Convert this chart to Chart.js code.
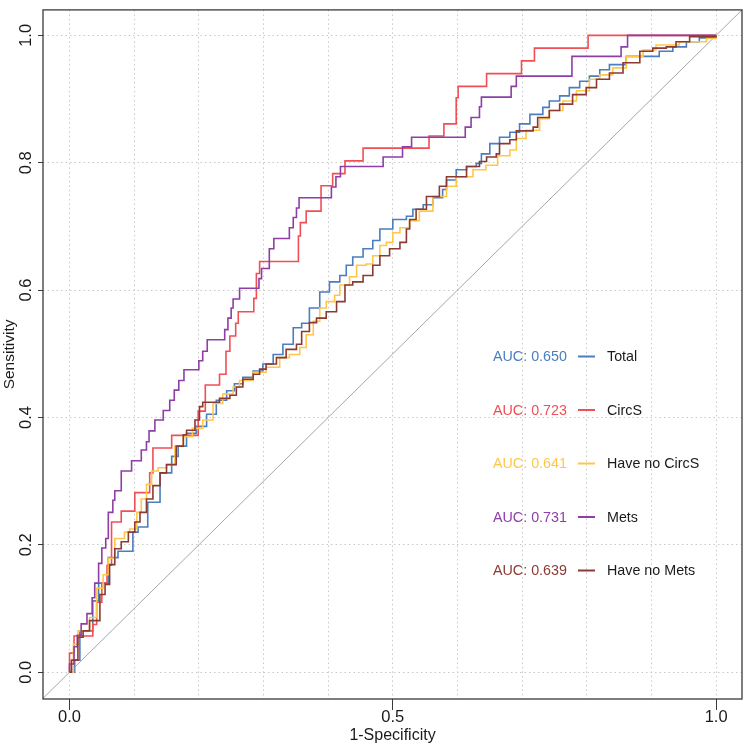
<!DOCTYPE html>
<html>
<head>
<meta charset="utf-8">
<script src="https://cdn.jsdelivr.net/npm/chart.js@4.4.1/dist/chart.umd.min.js"></script>
<style>
  html, body { margin: 0; padding: 0; background: #fff; }
  #rocChart { display: block; }
</style>
</head>
<body>
<canvas id="rocChart" width="744" height="747"></canvas>
<script>
// series names / AUC labels (legend)
var seriesNames = ["Total", "CircS", "Have no CircS", "Mets", "Have no Mets"];
var aucValues = ["0.650", "0.723", "0.641", "0.731", "0.639"];
var seriesColors = ["#4A7EBF", "#EF4F55", "#FFC74A", "#8D3FA5", "#8B3A33"];

// ROC points: 1-specificity / sensitivity
var totalFpr = [0, 0.008, 0.016, 0.036, 0.045, 0.060, 0.075, 0.098, 0.106, 0.121, 0.140, 0.158, 0.168, 0.181, 0.196, 0.212, 0.227, 0.243, 0.255, 0.268, 0.284, 0.299, 0.315, 0.330, 0.346, 0.359, 0.371, 0.387, 0.402, 0.418, 0.428, 0.438, 0.454, 0.469, 0.480, 0.500, 0.521, 0.531, 0.547, 0.562, 0.577, 0.583, 0.598, 0.614, 0.629, 0.637, 0.650, 0.665, 0.681, 0.696, 0.712, 0.732, 0.742, 0.758, 0.773, 0.789, 0.804, 0.820, 0.835, 0.861, 0.912, 0.933, 0.954, 0.974, 1.0];
var totalTpr = [0, 0.019, 0.065, 0.112, 0.140, 0.180, 0.190, 0.220, 0.228, 0.267, 0.313, 0.339, 0.355, 0.375, 0.386, 0.405, 0.427, 0.442, 0.453, 0.463, 0.473, 0.484, 0.499, 0.515, 0.541, 0.548, 0.572, 0.597, 0.613, 0.623, 0.639, 0.652, 0.665, 0.678, 0.696, 0.711, 0.716, 0.727, 0.734, 0.745, 0.758, 0.773, 0.789, 0.794, 0.799, 0.814, 0.830, 0.840, 0.848, 0.861, 0.876, 0.887, 0.897, 0.905, 0.918, 0.928, 0.936, 0.946, 0.954, 0.967, 0.975, 0.982, 0.990, 0.996, 1.0];

var circsFpr = [0, 0, 0.007, 0.036, 0.042, 0.050, 0.058, 0.065, 0.080, 0.101, 0.124, 0.129, 0.158, 0.199, 0.210, 0.232, 0.242, 0.248, 0.257, 0.261, 0.285, 0.289, 0.294, 0.354, 0.357, 0.366, 0.389, 0.407, 0.426, 0.454, 0.556, 0.579, 0.598, 0.601, 0.645, 0.699, 0.719, 0.802, 1.0];
var circsTpr = [0, 0.030, 0.057, 0.075, 0.110, 0.140, 0.168, 0.236, 0.253, 0.282, 0.313, 0.352, 0.372, 0.410, 0.451, 0.468, 0.504, 0.528, 0.548, 0.566, 0.587, 0.626, 0.645, 0.685, 0.706, 0.724, 0.764, 0.783, 0.803, 0.823, 0.842, 0.861, 0.902, 0.920, 0.940, 0.960, 0.980, 1.0, 1.0];

var noCircsFpr = [0, 0.006, 0.013, 0.031, 0.042, 0.052, 0.060, 0.070, 0.085, 0.093, 0.104, 0.111, 0.119, 0.127, 0.137, 0.150, 0.163, 0.176, 0.190, 0.206, 0.222, 0.237, 0.253, 0.263, 0.284, 0.304, 0.325, 0.340, 0.356, 0.366, 0.377, 0.387, 0.397, 0.410, 0.418, 0.433, 0.444, 0.459, 0.469, 0.480, 0.490, 0.500, 0.511, 0.526, 0.541, 0.562, 0.583, 0.598, 0.624, 0.644, 0.662, 0.681, 0.691, 0.706, 0.727, 0.742, 0.763, 0.784, 0.804, 0.820, 0.840, 0.861, 0.887, 0.907, 0.943, 0.985, 1.0];
var noCircsTpr = [0, 0.044, 0.065, 0.086, 0.132, 0.153, 0.179, 0.210, 0.220, 0.225, 0.251, 0.272, 0.295, 0.316, 0.321, 0.326, 0.355, 0.370, 0.383, 0.396, 0.422, 0.437, 0.448, 0.458, 0.471, 0.479, 0.494, 0.499, 0.510, 0.530, 0.551, 0.572, 0.582, 0.592, 0.608, 0.621, 0.639, 0.641, 0.654, 0.670, 0.675, 0.690, 0.698, 0.709, 0.724, 0.747, 0.763, 0.778, 0.789, 0.796, 0.811, 0.820, 0.838, 0.851, 0.869, 0.882, 0.897, 0.913, 0.931, 0.938, 0.949, 0.967, 0.977, 0.985, 0.990, 0.995, 1.0];

var metsFpr = [0, 0, 0.007, 0.012, 0.018, 0.027, 0.035, 0.039, 0.045, 0.050, 0.056, 0.060, 0.067, 0.070, 0.080, 0.096, 0.111, 0.119, 0.123, 0.132, 0.145, 0.155, 0.162, 0.169, 0.177, 0.200, 0.206, 0.213, 0.240, 0.245, 0.250, 0.253, 0.263, 0.293, 0.297, 0.309, 0.316, 0.340, 0.346, 0.351, 0.355, 0.405, 0.412, 0.419, 0.485, 0.515, 0.529, 0.612, 0.621, 0.634, 0.637, 0.683, 0.691, 0.777, 0.853, 0.863, 1.0];
var metsTpr = [0, 0.013, 0.040, 0.058, 0.076, 0.092, 0.117, 0.140, 0.171, 0.195, 0.210, 0.251, 0.270, 0.285, 0.316, 0.332, 0.349, 0.362, 0.379, 0.396, 0.411, 0.427, 0.443, 0.458, 0.475, 0.489, 0.504, 0.522, 0.538, 0.556, 0.572, 0.586, 0.603, 0.618, 0.634, 0.665, 0.681, 0.698, 0.714, 0.729, 0.745, 0.762, 0.778, 0.794, 0.809, 0.825, 0.840, 0.856, 0.871, 0.888, 0.903, 0.920, 0.936, 0.967, 0.982, 1.0, 1.0];

var noMetsFpr = [0, 0.003, 0.013, 0.021, 0.031, 0.047, 0.055, 0.062, 0.070, 0.080, 0.091, 0.101, 0.109, 0.119, 0.129, 0.140, 0.150, 0.165, 0.176, 0.181, 0.194, 0.201, 0.206, 0.232, 0.248, 0.258, 0.268, 0.284, 0.294, 0.304, 0.320, 0.335, 0.351, 0.359, 0.371, 0.382, 0.397, 0.413, 0.426, 0.438, 0.454, 0.469, 0.480, 0.495, 0.511, 0.521, 0.526, 0.536, 0.552, 0.572, 0.583, 0.614, 0.634, 0.645, 0.660, 0.665, 0.681, 0.691, 0.717, 0.724, 0.742, 0.758, 0.778, 0.799, 0.815, 0.835, 0.856, 0.882, 0.902, 0.923, 0.938, 0.959, 1.0];
var noMetsTpr = [0, 0.019, 0.055, 0.065, 0.081, 0.122, 0.138, 0.169, 0.194, 0.205, 0.220, 0.236, 0.251, 0.272, 0.293, 0.313, 0.326, 0.355, 0.373, 0.380, 0.396, 0.417, 0.424, 0.430, 0.435, 0.448, 0.460, 0.468, 0.476, 0.484, 0.494, 0.507, 0.515, 0.535, 0.549, 0.556, 0.566, 0.582, 0.608, 0.613, 0.623, 0.639, 0.654, 0.665, 0.675, 0.696, 0.711, 0.727, 0.747, 0.763, 0.778, 0.794, 0.802, 0.809, 0.814, 0.830, 0.836, 0.850, 0.856, 0.871, 0.882, 0.892, 0.907, 0.918, 0.931, 0.941, 0.957, 0.975, 0.980, 0.982, 0.990, 0.998, 1.0];

// axis ticks
var xGridValues = [0, 0.1, 0.2, 0.3, 0.4, 0.5, 0.6, 0.7, 0.8, 0.9, 1.0];
var xLabelValues = [0, 0.5, 1.0];
var xLabels = ["0.0", "0.5", "1.0"];
var yTickValues = [0, 0.2, 0.4, 0.6, 0.8, 1.0];
var yLabels = ["0.0", "0.2", "0.4", "0.6", "0.8", "1.0"];
var refLine = [-0.05, 1.05];

var fpRows = [totalFpr, circsFpr, noCircsFpr, metsFpr, noMetsFpr];
var tpRows = [totalTpr, circsTpr, noCircsTpr, metsTpr, noMetsTpr];

function toPoints(xs, ys) {
  return xs.map(function (x, i) { return { x: x, y: ys[i] }; });
}

function labelIndex(list, v) {
  for (var i = 0; i < list.length; i++) {
    if (Math.abs(list[i] - v) < 1e-9) return i;
  }
  return -1;
}

var FONT = "'Liberation Sans', Arial, sans-serif";

var datasets = seriesNames.map(function (name, i) {
  return {
    label: name,
    data: toPoints(fpRows[i], tpRows[i]),
    borderColor: seriesColors[i],
    borderWidth: 1.6,
    pointRadius: 0,
    stepped: "before",
    fill: false,
    clip: 0,
    order: 5 - i,
  };
});
datasets.push({
  label: "reference",
  data: toPoints(refLine, refLine),
  borderColor: "#A6A6A6",
  borderWidth: 1,
  pointRadius: 0,
  fill: false,
  clip: 0,
  order: 10,
});

// legend inside the plot: "AUC: x" — line — name
var aucLegend = {
  id: "aucLegend",
  afterDatasetsDraw: function (chart) {
    var ctx = chart.ctx;
    ctx.save();
    ctx.font = "14.3px " + FONT;
    ctx.textBaseline = "middle";
    ctx.textAlign = "left";
    for (var i = 0; i < seriesNames.length; i++) {
      var y = 357.5 + i * 53.5;
      ctx.fillStyle = seriesColors[i];
      ctx.fillText("AUC: " + aucValues[i], 493, y);
      ctx.strokeStyle = seriesColors[i];
      ctx.lineWidth = 2;
      ctx.beginPath();
      ctx.moveTo(578, y - 1);
      ctx.lineTo(595, y - 1);
      ctx.stroke();
      ctx.fillStyle = "#1a1a1a";
      ctx.fillText(seriesNames[i], 607, y);
    }
    ctx.restore();
  },
};

// box around the plotting region
var plotBox = {
  id: "plotBox",
  afterDraw: function (chart) {
    var a = chart.chartArea;
    var ctx = chart.ctx;
    ctx.save();
    ctx.strokeStyle = "#3a3a3a";
    ctx.lineWidth = 1.3;
    ctx.strokeRect(a.left, a.top, a.right - a.left, a.bottom - a.top);
    ctx.restore();
  },
};

var ctxRoc = document.getElementById("rocChart").getContext("2d");
new Chart(ctxRoc, {
  type: "line",
  data: { datasets: datasets },
  options: {
    responsive: false,
    animation: false,
    events: [],
    layout: { padding: { top: 1, right: 2, left: 0, bottom: 0 } },
    plugins: { legend: { display: false }, tooltip: { enabled: false } },
    scales: {
      x: {
        type: "linear",
        min: -0.041,
        max: 1.04,
        afterBuildTicks: function (scale) {
          scale.ticks = xGridValues.map(function (v) { return { value: v }; });
        },
        afterFit: function (scale) { scale.height = 48; },
        ticks: {
          autoSkip: false,
          maxRotation: 0,
          padding: -2,
          color: "#1a1a1a",
          font: { family: FONT, size: 16.5 },
          callback: function (value) {
            var k = labelIndex(xLabelValues, value);
            return k >= 0 ? xLabels[k] : "";
          },
        },
        grid: {
          color: "#C9C9C9",
          lineWidth: 1,
          tickLength: 11,
          tickWidth: 1,
          tickColor: function (c) {
            return c.tick && labelIndex(xLabelValues, c.tick.value) >= 0 ? "#3a3a3a" : "rgba(0,0,0,0)";
          },
        },
        border: { display: false, dash: [1.5, 3] },
        title: {
          display: true,
          text: "1-Specificity",
          color: "#1a1a1a",
          font: { family: FONT, size: 16 },
          padding: { top: 0, bottom: 2 },
        },
      },
      y: {
        type: "linear",
        min: -0.042,
        max: 1.04,
        afterBuildTicks: function (scale) {
          scale.ticks = yTickValues.map(function (v) { return { value: v }; });
        },
        afterFit: function (scale) { scale.width = 43; },
        ticks: {
          autoSkip: false,
          minRotation: 90,
          maxRotation: 90,
          crossAlign: "center",
          padding: 0,
          color: "#1a1a1a",
          font: { family: FONT, size: 16.5 },
          callback: function (value) {
            var k = labelIndex(yTickValues, value);
            return k >= 0 ? yLabels[k] : "";
          },
        },
        grid: {
          color: "#C9C9C9",
          lineWidth: 1,
          tickLength: 5,
          tickWidth: 1,
          tickColor: "#3a3a3a",
        },
        border: { display: false, dash: [1.5, 3] },
        title: {
          display: true,
          text: "Sensitivity",
          color: "#1a1a1a",
          font: { family: FONT, size: 15.5 },
          padding: { top: 0, bottom: 0 },
        },
      },
    },
  },
  plugins: [aucLegend, plotBox],
});
</script>
</body>
</html>
